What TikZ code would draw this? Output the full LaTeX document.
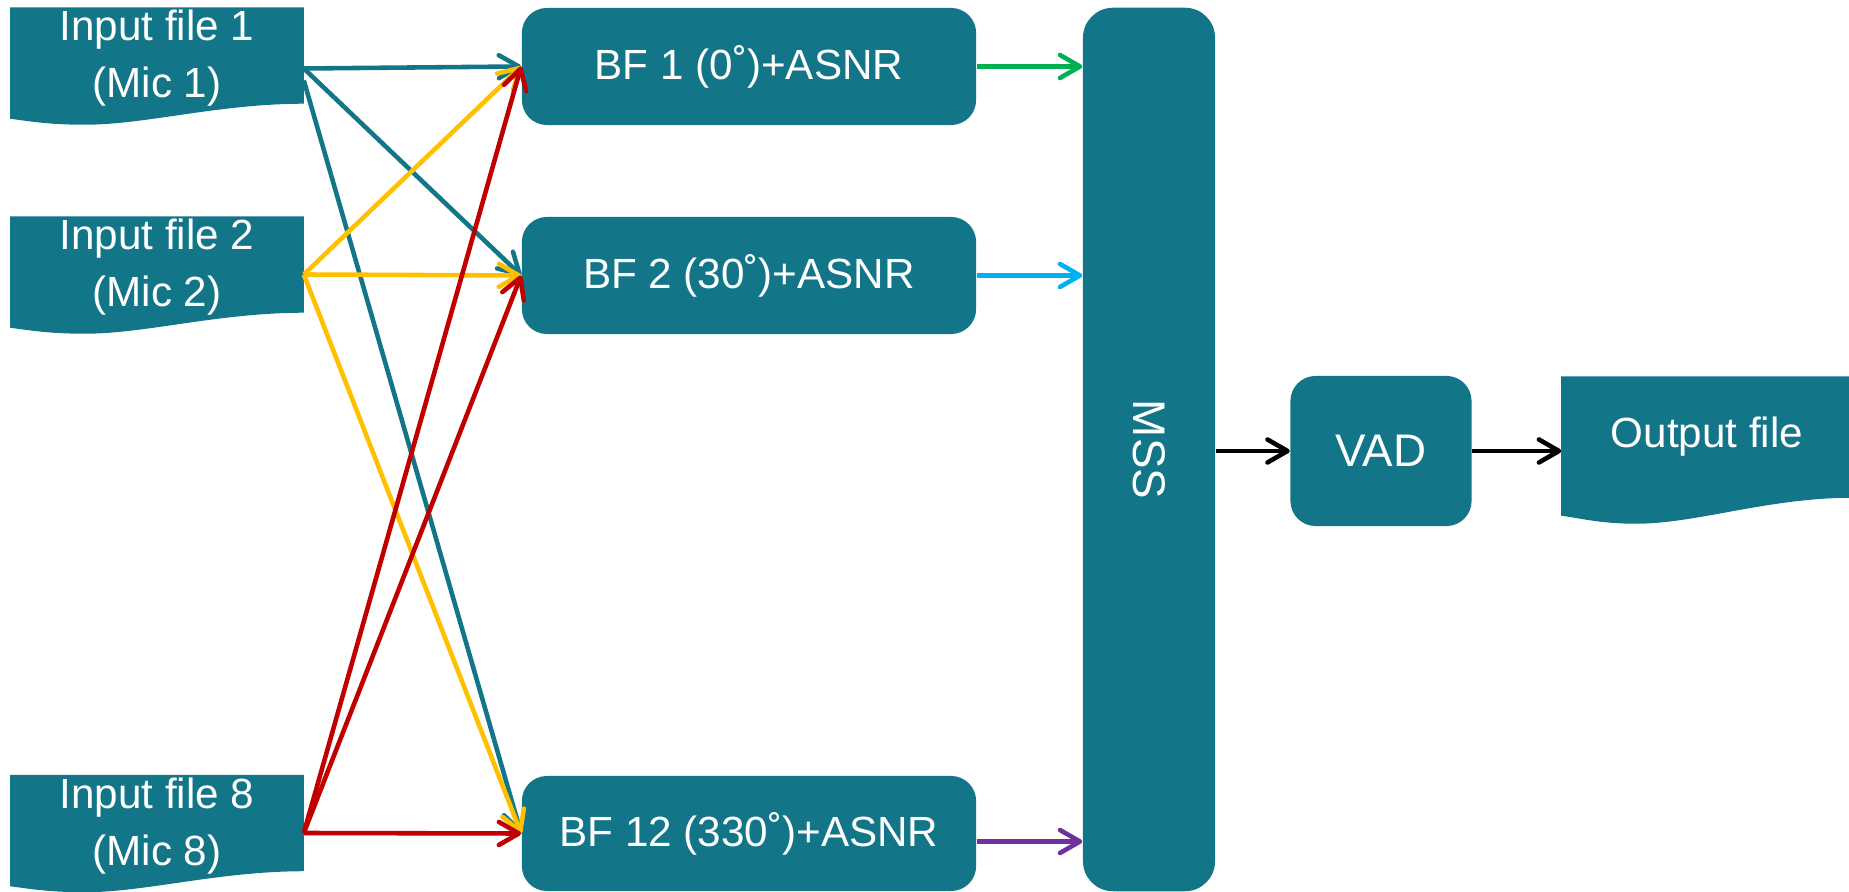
\documentclass[tikz,border=0pt]{standalone}
\usepackage{fontspec}
\setmainfont{Liberation Sans}
\usetikzlibrary{arrows.meta,calc}
\definecolor{boxc}{RGB}{19,118,136}
\definecolor{ayellow}{RGB}{255,192,0}
\definecolor{ared}{RGB}{192,0,0}
\definecolor{agreen}{RGB}{0,176,80}
\definecolor{acyan}{RGB}{0,176,240}
\definecolor{apurple}{RGB}{112,48,160}
\definecolor{ablack}{RGB}{0,0,0}
\newcommand\mydocshape[3]{%
  \fill[boxc] (#1.north west) -- (#1.north east) -- (#1.south east)
    .. controls +(-85,0) and +(60,0) .. ($(#1.south west)+(75,#3)$)
    .. controls +(-35,0) and +(22,3) .. ($(#1.south west)+(0,#2)$) -- cycle;}
\begin{document}
\begin{tikzpicture}[x=0.01cm,y=-0.01cm,
  txt/.style={text=white,font=\fontsize{12}{16.2}\selectfont,align=center,inner sep=0pt},
  filebox/.style={txt,minimum width=2.92cm,minimum height=0.95cm},
  bfbox/.style={txt,fill=boxc,rounded corners=0.25cm,minimum width=4.54cm,minimum height=1.17cm},
  arr/.style={line width=1.3pt,-{Straight Barb[length=2mm,width=2.3mm,round]}}]
\clip (0,0) rectangle (1849,892);
% input files
\path (157,55.5) node[filebox] (f1) {};
\path (157,264.5) node[filebox] (f2) {};
\path (157,823) node[filebox] (f8) {};
\path (1707,437) node[filebox,minimum width=2.9cm,minimum height=1.2cm] (out) {};
\mydocshape{f1}{15}{21}
\mydocshape{f2}{15}{21}
\mydocshape{f8}{15}{21}
\mydocshape{out}{18}{26}
\node[txt] at ($(f1)+(0,3)$) {Input file 1\\(Mic 1)};
\node[txt] at ($(f2)+(0,3)$) {Input file 2\\(Mic 2)};
\node[txt] at ($(f8)+(0,3)$) {Input file 8\\(Mic 8)};
\node[txt] at (out) {Output file};
% beamformers
\node[bfbox] (b1) at (749,66.5) {BF 1 (0˚)+ASNR};
\node[bfbox] (b2) at (749,275.5) {BF 2 (30˚)+ASNR};
\node[bfbox,minimum height=1.15cm] (b12) at (749,833.5) {BF 12 (330˚)+ASNR};
\node[bfbox,rounded corners=0.3cm,minimum width=1.32cm,minimum height=8.83cm] (mss) at (1149,449.5) {};
\node[txt,font=\fontsize{13}{15}\selectfont,rotate=-90] at (mss) {MSS};
\node[bfbox,font=\fontsize{13}{15}\selectfont,minimum width=1.81cm,minimum height=1.5cm] (vad) at (1381,451) {VAD};
% origins
\coordinate (o1) at ($(f1.east)+(0,13)$);
\coordinate (o1b) at ($(f1.east)+(0,25)$);
\coordinate (o2) at ($(f2.east)+(0,10)$);
\coordinate (o8) at ($(f8.east)+(0,10)$);
% arrows
\draw[arr,boxc] (o1) -- (b1.west);
\draw[arr,boxc] (o1) -- (b2.west);
\draw[arr,boxc] (o1b) -- (b12.west);
\draw[arr,ayellow] (o2) -- (b1.west);
\draw[arr,ayellow] (o2) -- (b2.west);
\draw[arr,ayellow] (o2) -- (b12.west);
\draw[arr,ared] (o8) -- (b1.west);
\draw[arr,ared] (o8) -- (b2.west);
\draw[arr,ared] (o8) -- (b12.west);
\draw[arr,agreen] (b1.east) -- (b1.east -| mss.west);
\draw[arr,acyan] (b2.east) -- (b2.east -| mss.west);
\draw[arr,apurple] ($(b12.east)+(0,8)$) coordinate (p12) -- (p12 -| mss.west);
\draw[arr,ablack] (mss.east |- vad.west) -- (vad.west);
\draw[arr,ablack] (vad.east) -- (vad.east -| out.west);
\end{tikzpicture}
\end{document}
